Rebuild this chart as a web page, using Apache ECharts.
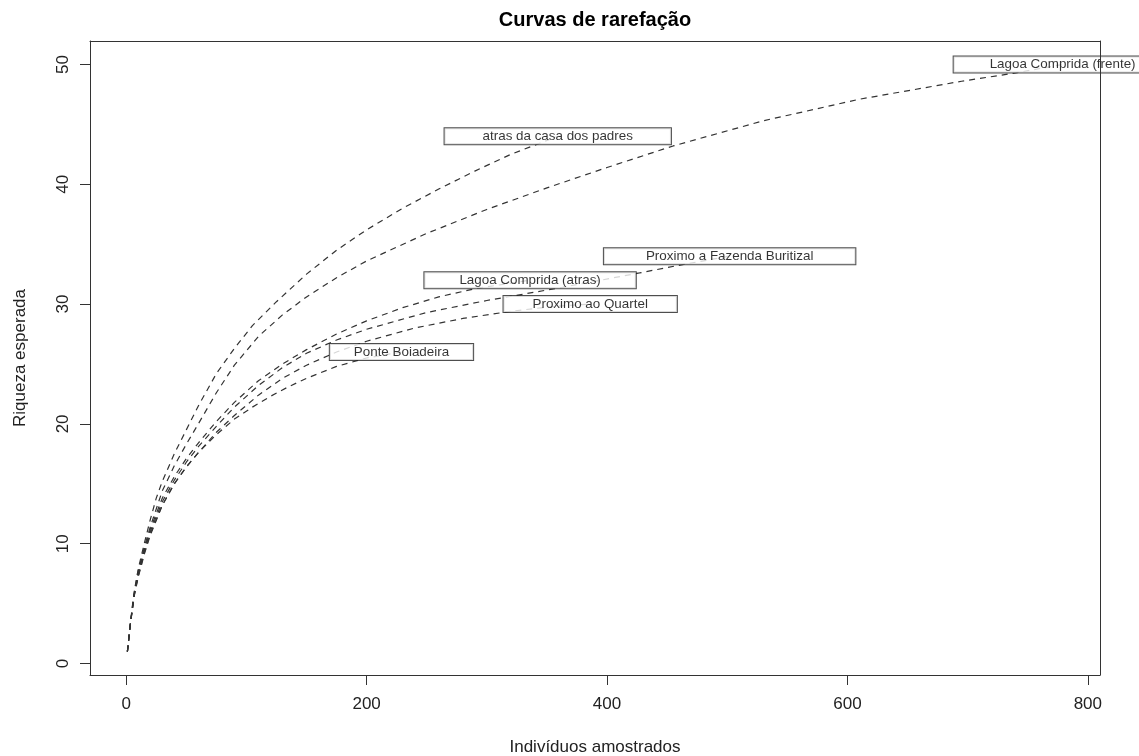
<!DOCTYPE html>
<html>
<head>
<meta charset="utf-8">
<script src="https://cdn.jsdelivr.net/npm/echarts@6/dist/echarts.min.js"></script>
<style>
html,body{margin:0;padding:0;background:#fff;}
#chart{width:1139px;height:756px;}
</style>
</head>
<body>
<div id="chart"></div>
<script>
// ---------- data ----------
const titleText = 'Curvas de rarefação';
const xAxisName = 'Indivíduos amostrados';
const yAxisName = 'Riqueza esperada';
const xTicks = [0, 200, 400, 600, 800];
const yTicks = [0, 10, 20, 30, 40, 50];

const siteNames = [
  'atras da casa dos padres',
  'Lagoa Comprida (frente)',
  'Lagoa Comprida (atras)',
  'Proximo a Fazenda Buritizal',
  'Proximo ao Quartel',
  'Ponte Boiadeira'
];

const nAtrasCasa = [1,3,5,7,10,15,20,25,30,40,50,60,75,90,105,125,150,175,200,230,260,290,320,359];
const sAtrasCasa = [1,2.9,4.7,6.2,7.9,10.0,12.0,13.8,15.2,17.5,19.5,21.5,24.2,26.3,28.2,30.2,32.5,34.5,36.2,38.0,39.6,41.1,42.5,44];

const nLagoaFrente = [1,3,5,7,10,15,20,30,40,50,60,75,90,110,130,150,175,200,250,300,350,400,455,530,610,695,740,779];
const sLagoaFrente = [1,2.9,4.6,6.1,7.7,9.7,11.4,14.4,16.5,18.3,20.0,22.6,24.9,27.3,29.1,30.6,32.2,33.6,35.9,37.9,39.7,41.4,43.2,45.3,47.1,48.6,49.3,50];

const nLagoaAtras = [1,3,5,7,10,15,20,30,40,50,60,75,90,110,130,150,175,200,230,260,291,336];
const sLagoaAtras = [1,2.9,4.5,6.0,7.5,9.5,11.2,13.8,15.6,17.1,18.4,20.2,21.8,23.6,25.0,26.2,27.5,28.6,29.7,30.6,31.3,32];

const nBuritizal = [1,3,5,7,10,15,20,30,40,50,60,75,90,110,130,150,175,200,250,300,363,427,463,502];
const sBuritizal = [1,2.9,4.5,5.9,7.4,9.4,11.0,13.5,15.3,16.8,18.1,19.8,21.4,23.2,24.7,25.9,27.0,27.9,29.3,30.3,31.4,32.6,33.3,34];

const nQuartel = [1,3,5,7,10,15,20,30,40,50,60,75,90,110,130,150,175,200,240,280,320,355,386];
const sQuartel = [1,2.9,4.5,5.9,7.3,9.2,10.8,13.2,15.0,16.4,17.6,19.3,20.7,22.4,23.8,24.9,26.0,26.9,28.0,28.8,29.4,29.8,30];

const nPonte = [1,3,5,7,10,15,20,30,40,50,60,75,90,105,120,135,150,175,200,229];
const sPonte = [1,2.9,4.4,5.8,7.2,9.1,10.7,13.2,15.0,16.4,17.6,19.1,20.4,21.4,22.3,23.1,23.8,24.8,25.5,26];

const curveN = [nAtrasCasa, nLagoaFrente, nLagoaAtras, nBuritizal, nQuartel, nPonte];
const curveS = [sAtrasCasa, sLagoaFrente, sLagoaAtras, sBuritizal, sQuartel, sPonte];

// ---------- build ----------
const FONT = '"Liberation Sans", Arial, Helvetica, sans-serif';
const allN = [].concat(...curveN), allS = [].concat(...curveS);
const xmin = Math.min(...allN), xmax = Math.max(...allN);
const ymin = Math.min(...allS), ymax = Math.max(...allS);
const xr = xmax - xmin, yr = ymax - ymin;
const axX = {min: xmin - 0.04 * xr, max: xmax + 0.04 * xr};
const axY = {min: ymin - 0.04 * yr, max: ymax + 0.04 * yr};

const labelFontSize = 13.4;
const mctx = document.createElement('canvas').getContext('2d');
mctx.font = labelFontSize + 'px ' + FONT;

const lineColor = '#333';
const series = curveN.map((ns, i) => ({
  type: 'line',
  name: siteNames[i],
  data: ns.map((n, j) => [n, curveS[i][j]]),
  showSymbol: false,
  symbol: 'none',
  smooth: false,
  z: 2,
  lineStyle: {color: lineColor, width: 1.2, type: [6, 5]},
  silent: true,
  animation: false
}));

series.push({
  type: 'scatter',
  symbolSize: 0,
  z: 3,
  silent: true,
  animation: false,
  data: curveN.map((ns, i) => {
    const w = mctx.measureText(siteNames[i]).width;
    const pad = Math.round(w * 0.25);
    return {
      value: [ns[ns.length - 1], curveS[i][curveS[i].length - 1]],
      name: siteNames[i],
      label: {padding: [1, pad, 1, pad]}
    };
  }),
  label: {
    show: true,
    position: 'inside',
    formatter: '{b}',
    fontSize: labelFontSize,
    fontFamily: FONT,
    color: '#000',
    backgroundColor: '#fff',
    borderColor: '#222',
    borderWidth: 1,
    lineHeight: 14
  }
});

const axisLineStyle = {show: true, onZero: false, lineStyle: {color: '#333', width: 1}};
const option = {
  animation: false,
  backgroundColor: '#fff',
  title: {
    text: titleText,
    left: 595,
    top: 10,
    padding: 0,
    textAlign: 'center',
    textStyle: {fontFamily: FONT, fontSize: 20, fontWeight: 'bold', color: '#000'}
  },
  grid: {left: 90, right: 39, top: 41, bottom: 81, containLabel: false, outerBoundsMode: 'none'},
  xAxis: [{
    type: 'value', position: 'bottom', min: axX.min, max: axX.max, z: 10,
    axisLine: axisLineStyle,
    axisTick: {show: true, length: 10, customValues: xTicks, lineStyle: {color: '#333'}},
    axisLabel: {show: true, customValues: xTicks, margin: 21, fontSize: 17, fontFamily: FONT, color: '#222'},
    splitLine: {show: false},
    name: xAxisName, nameLocation: 'middle', nameGap: 64,
    nameTextStyle: {fontSize: 17, fontFamily: FONT, color: '#222'}
  }, {
    type: 'value', position: 'top', min: axX.min, max: axX.max, z: 10,
    axisLine: axisLineStyle, axisTick: {show: false}, axisLabel: {show: false}, splitLine: {show: false}
  }],
  yAxis: [{
    type: 'value', position: 'left', min: axY.min, max: axY.max, z: 10,
    axisLine: axisLineStyle,
    axisTick: {show: true, length: 10, customValues: yTicks, lineStyle: {color: '#333'}},
    axisLabel: {show: true, customValues: yTicks, rotate: 90, margin: 18, fontSize: 17, fontFamily: FONT, color: '#222'},
    splitLine: {show: false},
    name: yAxisName, nameLocation: 'middle', nameGap: 61, nameRotate: 90,
    nameTextStyle: {fontSize: 17, fontFamily: FONT, color: '#222'}
  }, {
    type: 'value', position: 'right', min: axY.min, max: axY.max, z: 10,
    axisLine: axisLineStyle, axisTick: {show: false}, axisLabel: {show: false}, splitLine: {show: false}
  }],
  series: series
};

const chart = echarts.init(document.getElementById('chart'), null, {renderer: 'canvas'});
chart.setOption(option);
</script>
</body>
</html>
